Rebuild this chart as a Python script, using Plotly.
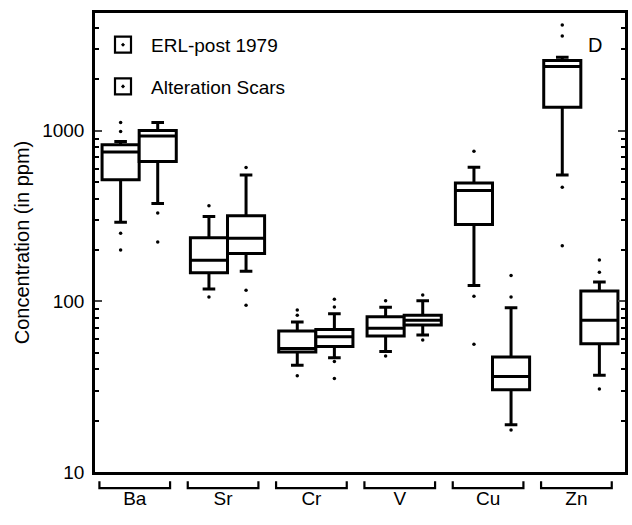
import plotly.graph_objects as go

categories = ["Ba", "Sr", "Cr", "V", "Cu", "Zn"]

# ERL-post 1979
erl_low = [291, 118, 42.3, 50.8, 124, 551]
erl_q1 = [516, 147, 50.5, 62.6, 282, 1374]
erl_med = [750, 174, 52.9, 69.5, 446, 2376]
erl_q3 = [828, 236, 67, 81.3, 494, 2577]
erl_high = [865, 314, 75.7, 92.3, 610, 2696]
erl_out = [[1117, 990, 251, 200], [363, 106], [89, 82.8, 36.6], [101, 47.9],
           [757, 107, 56], [4170, 3594, 467, 212]]

# Alteration Scars
alt_low = [374, 150, 46.7, 63.5, 18.9, 36.9]
alt_q1 = [661, 191, 54.3, 72.7, 30.3, 56.5]
alt_med = [930, 234, 62, 77.4, 36.3, 77.4]
alt_q3 = [1004, 318, 68.5, 82.8, 47.2, 115]
alt_high = [1117, 551, 84.7, 101, 91.8, 130]
alt_out = [[330, 223], [609, 116, 95], [103, 92.6, 44.4, 35.3], [109, 59.4],
           [142, 106, 17.6], [175, 148, 30.6]]

yticks = [10, 100, 1000]
minor_ticks = [m * d for d in (10, 100, 1000) for m in range(2, 10) if m * d < 5000]

box_w = 0.42
idx = list(range(len(categories)))
fig = go.Figure()

series = [
    ("ERL-post 1979", -box_w / 2, erl_low, erl_q1, erl_med, erl_q3, erl_high, erl_out),
    ("Alteration Scars", box_w / 2, alt_low, alt_q1, alt_med, alt_q3, alt_high, alt_out),
]
for name, off, lo, q1, med, q3, hi, outs in series:
    xs = [i + off for i in idx]
    fig.add_trace(go.Box(
        x=xs, q1=q1, median=med, q3=q3, lowerfence=lo, upperfence=hi,
        width=box_w, whiskerwidth=0.34, fillcolor="white",
        line=dict(color="black", width=3), showlegend=False, boxpoints=False,
        hoverinfo="skip"))
    ox, oy = [], []
    for i, vals in zip(idx, outs):
        for v in vals:
            ox.append(i + off)
            oy.append(v)
    fig.add_trace(go.Scatter(x=ox, y=oy, mode="markers", showlegend=False,
                             marker=dict(color="black", size=3.5)))
    fig.add_trace(go.Scatter(x=[None], y=[None], mode="markers", name=name,
                             legendgroup=name,
                             marker=dict(symbol="square-open-dot", size=16, color="black",
                                         line=dict(width=2.2))))

# category brackets under the axis
shift = -0.05
for i in idx:
    a, b = i - 0.4 + shift, i + 0.4 + shift
    fig.add_shape(type="path", xref="x", yref="paper",
                  path=f"M {a} -0.02 L {a} -0.035 L {b} -0.035 L {b} -0.02",
                  line=dict(color="black", width=2.2))

fig.add_annotation(text="D", xref="paper", yref="paper", x=0.944, y=0.93,
                   xanchor="center", yanchor="middle",
                   showarrow=False, font=dict(size=20, color="black"))

fig.update_layout(
    width=632, height=525,
    margin=dict(l=95, r=4, t=13, b=53),
    paper_bgcolor="white", plot_bgcolor="white",
    font=dict(family="Liberation Sans, Arial, sans-serif", color="black", size=19),
    legend=dict(x=0.0, y=0.972, xanchor="left", yanchor="top",
                bgcolor="rgba(0,0,0,0)", font=dict(size=19), itemsizing="trace",
                itemwidth=46, tracegroupgap=14),
    xaxis=dict(range=[-0.5, 5.5], tickvals=[i + shift for i in idx], ticktext=categories,
               ticks="", showline=True, linecolor="black", linewidth=2.5, mirror=True,
               showgrid=False, zeroline=False, ticklabelstandoff=7,
               tickfont=dict(size=19)),
    yaxis=dict(type="log", range=[1, 3.69], tickvals=yticks,
               ticktext=[str(t) for t in yticks], ticks="inside", ticklen=7,
               tickwidth=2, showline=True, linecolor="black", linewidth=2.5,
               mirror="ticks", showgrid=False, zeroline=False, ticklabelstandoff=4,
               tickfont=dict(size=19),
               title=dict(text="Concentration (in ppm)", font=dict(size=20), standoff=8),
               minor=dict(tickvals=minor_ticks, ticks="inside", ticklen=4,
                          tickwidth=1.5, tickcolor="black", showgrid=False)),
)

fig.write_html("out.html")
